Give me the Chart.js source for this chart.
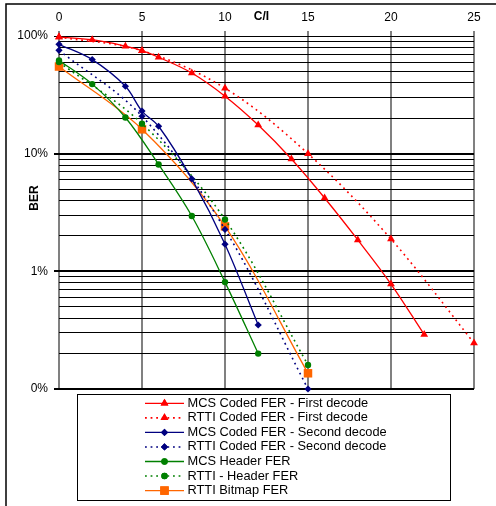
<!DOCTYPE html>
<html>
<head>
<meta charset="utf-8">
<script src="https://cdn.jsdelivr.net/npm/chart.js@4.4.1/dist/chart.umd.min.js"></script>
<style>
  html, body { margin: 0; padding: 0; background: #fff; }
  #wrap { width: 496px; height: 506px; position: relative; }
</style>
</head>
<body>
<div id="wrap"><canvas id="berChart"></canvas></div>
<script>
// Dữ liệu (BER theo %, trục C/I)
const xMcsFirst = [0, 2, 4, 5, 6, 8, 10, 12, 14, 16, 18, 20, 22];
const mcsFirst = [98, 93, 82, 75, 66, 48.5, 30.8, 17.5, 9.0, 4.2, 1.85, 0.78, 0.29];

const xRttiFirst = [0, 5, 10, 15, 20, 25];
const rttiFirst = [98, 75, 36, 10, 1.88, 0.246];

const xMcsSecond = [0, 2, 4, 5, 6, 8, 10, 12];
const mcsSecond = [85, 63, 37.4, 23, 17.1, 6.1, 1.7, 0.35];

const xRttiSecond = [0, 5, 10, 15];
const rttiSecond = [75.6, 20.8, 2.27, 0.1];

const xMcsHeader = [0, 2, 4, 6, 8, 10, 12];
const mcsHeader = [62, 39, 20.3, 8.1, 2.95, 0.81, 0.2];

const xRttiHeader = [0, 5, 10, 15];
const rttiHeader = [60, 18, 2.76, 0.16];

const xRttiBitmap = [0, 5, 10, 15];
const rttiBitmap = [55, 16.1, 2.41, 0.136];

// Trục Y: lưới log và nhãn
const yGridValues = [0.1, 0.2, 0.3, 0.4, 0.5, 0.6, 0.7, 0.8, 0.9,
                     1, 2, 3, 4, 5, 6, 7, 8, 9,
                     10, 20, 30, 40, 50, 60, 70, 80, 90, 100];
const yLabelValues = [0.1, 1, 10, 100];
const yLabelTexts = ['0%', '1%', '10%', '100%'];

const xTitle = 'C/I';
const yTitle = 'BER';

function pts(xs, ys) {
    return xs.map((x, i) => ({ x: x, y: ys[i] }));
}

function labelFor(v) {
    const i = yLabelValues.findIndex(l => Math.abs(l - v) < 1e-9);
    return i >= 0 ? yLabelTexts[i] : '';
}

const RED = '#ff0000', BLUE = '#000080', GREEN = '#008000', ORANGE = '#ff6600';
const DOTS = [1.8, 3.8];

function ds(label, xs, ys, color, dashed, style, r) {
    return {
        label: label, data: pts(xs, ys),
        borderColor: color, backgroundColor: color,
        borderWidth: dashed ? 1.6 : 1.3,
        borderDash: dashed ? DOTS : [],
        pointStyle: style, pointRadius: r, pointBorderWidth: 0,
        tension: 0.35, clip: false
    };
}

const datasets = [
    ds('MCS Coded FER - First decode', xMcsFirst, mcsFirst, RED, false, 'triangle', 4.5),
    ds('RTTI Coded FER - First decode', xRttiFirst, rttiFirst, RED, true, 'triangle', 4.5),
    ds('MCS Coded FER - Second decode', xMcsSecond, mcsSecond, BLUE, false, 'rectRot', 3.6),
    ds('RTTI Coded FER - Second decode', xRttiSecond, rttiSecond, BLUE, true, 'rectRot', 3.6),
    ds('MCS Header FER', xMcsHeader, mcsHeader, GREEN, false, 'circle', 3.2),
    ds('RTTI - Header FER', xRttiHeader, rttiHeader, GREEN, true, 'circle', 3.2),
    ds('RTTI Bitmap FER', xRttiBitmap, rttiBitmap, ORANGE, false, 'rect', 6)
];

// Plugin vẽ khung, tiêu đề trục và chú thích
const decor = {
    id: 'decor',
    beforeDraw(chart) {
        const ctx = chart.ctx;
        ctx.save();
        ctx.strokeStyle = '#000';
        ctx.lineWidth = 1.5;
        ctx.strokeRect(6, 4, 520, 540);
        ctx.restore();
    },
    afterDraw(chart) {
        const ctx = chart.ctx;
        const xs = chart.scales.x;
        ctx.save();
        ctx.fillStyle = '#000';
        ctx.font = 'bold 12px Arial, "Liberation Sans"';
        ctx.textAlign = 'center';
        ctx.textBaseline = 'middle';
        ctx.fillText(xTitle, xs.getPixelForValue(12.2), 17);

        ctx.save();
        ctx.translate(34.5, 198);
        ctx.rotate(-Math.PI / 2);
        ctx.fillText(yTitle, 0, 0);
        ctx.restore();

        // Khung chú thích
        ctx.strokeStyle = '#000';
        ctx.lineWidth = 1;
        ctx.strokeRect(77.5, 394.5, 373, 106);

        ctx.font = '12.8px Arial, "Liberation Sans"';
        ctx.textAlign = 'left';
        chart.data.datasets.forEach((d, i) => {
            const y = 403.3 + i * 14.55;
            ctx.save();
            ctx.strokeStyle = d.borderColor;
            ctx.lineWidth = d.borderWidth;
            ctx.setLineDash(d.borderDash);
            ctx.beginPath();
            ctx.moveTo(145, y);
            ctx.lineTo(184, y);
            ctx.stroke();
            ctx.setLineDash([]);
            ctx.fillStyle = d.backgroundColor;
            Chart.helpers.drawPoint(ctx, { pointStyle: d.pointStyle, radius: d.pointRadius, rotation: 0, borderWidth: 0 }, 164.5, y);
            ctx.fill();
            ctx.restore();
            ctx.fillText(d.label, 187.5, y);
        });
        ctx.restore();
    }
};

new Chart(document.getElementById('berChart'), {
    type: 'line',
    data: { datasets: datasets },
    options: {
        responsive: true, maintainAspectRatio: false,
        animation: false,
        layout: { padding: { left: 0, right: 22, top: 0, bottom: 117 } },
        plugins: { legend: { display: false }, tooltip: { enabled: false } },
        scales: {
            x: {
                type: 'linear', position: 'top', min: 0, max: 25,
                ticks: { stepSize: 5, color: '#000', font: { family: 'Arial', size: 12 }, padding: 6, maxRotation: 0 },
                grid: { color: '#808080', lineWidth: 2, tickLength: 5 },
                border: { display: false },
                afterFit: s => { s.height = 36; }
            },
            y: {
                type: 'logarithmic', min: 0.1, max: 100,
                afterBuildTicks: s => { s.ticks = yGridValues.map(v => ({ value: v })); },
                ticks: {
                    autoSkip: false, color: '#000', padding: 6,
                    font: { family: 'Arial', size: 12 },
                    callback: v => labelFor(v)
                },
                grid: {
                    color: '#000',
                    lineWidth: c => (c.tick && [0.1, 1, 10].includes(c.tick.value)) ? 2 : 1,
                    tickColor: c => (c.tick && labelFor(c.tick.value)) ? '#000' : 'rgba(0,0,0,0)',
                    tickLength: 5
                },
                border: { display: false },
                afterFit: s => { s.width = 59; }
            }
        }
    },
    plugins: [decor]
});
</script>
</body>
</html>
